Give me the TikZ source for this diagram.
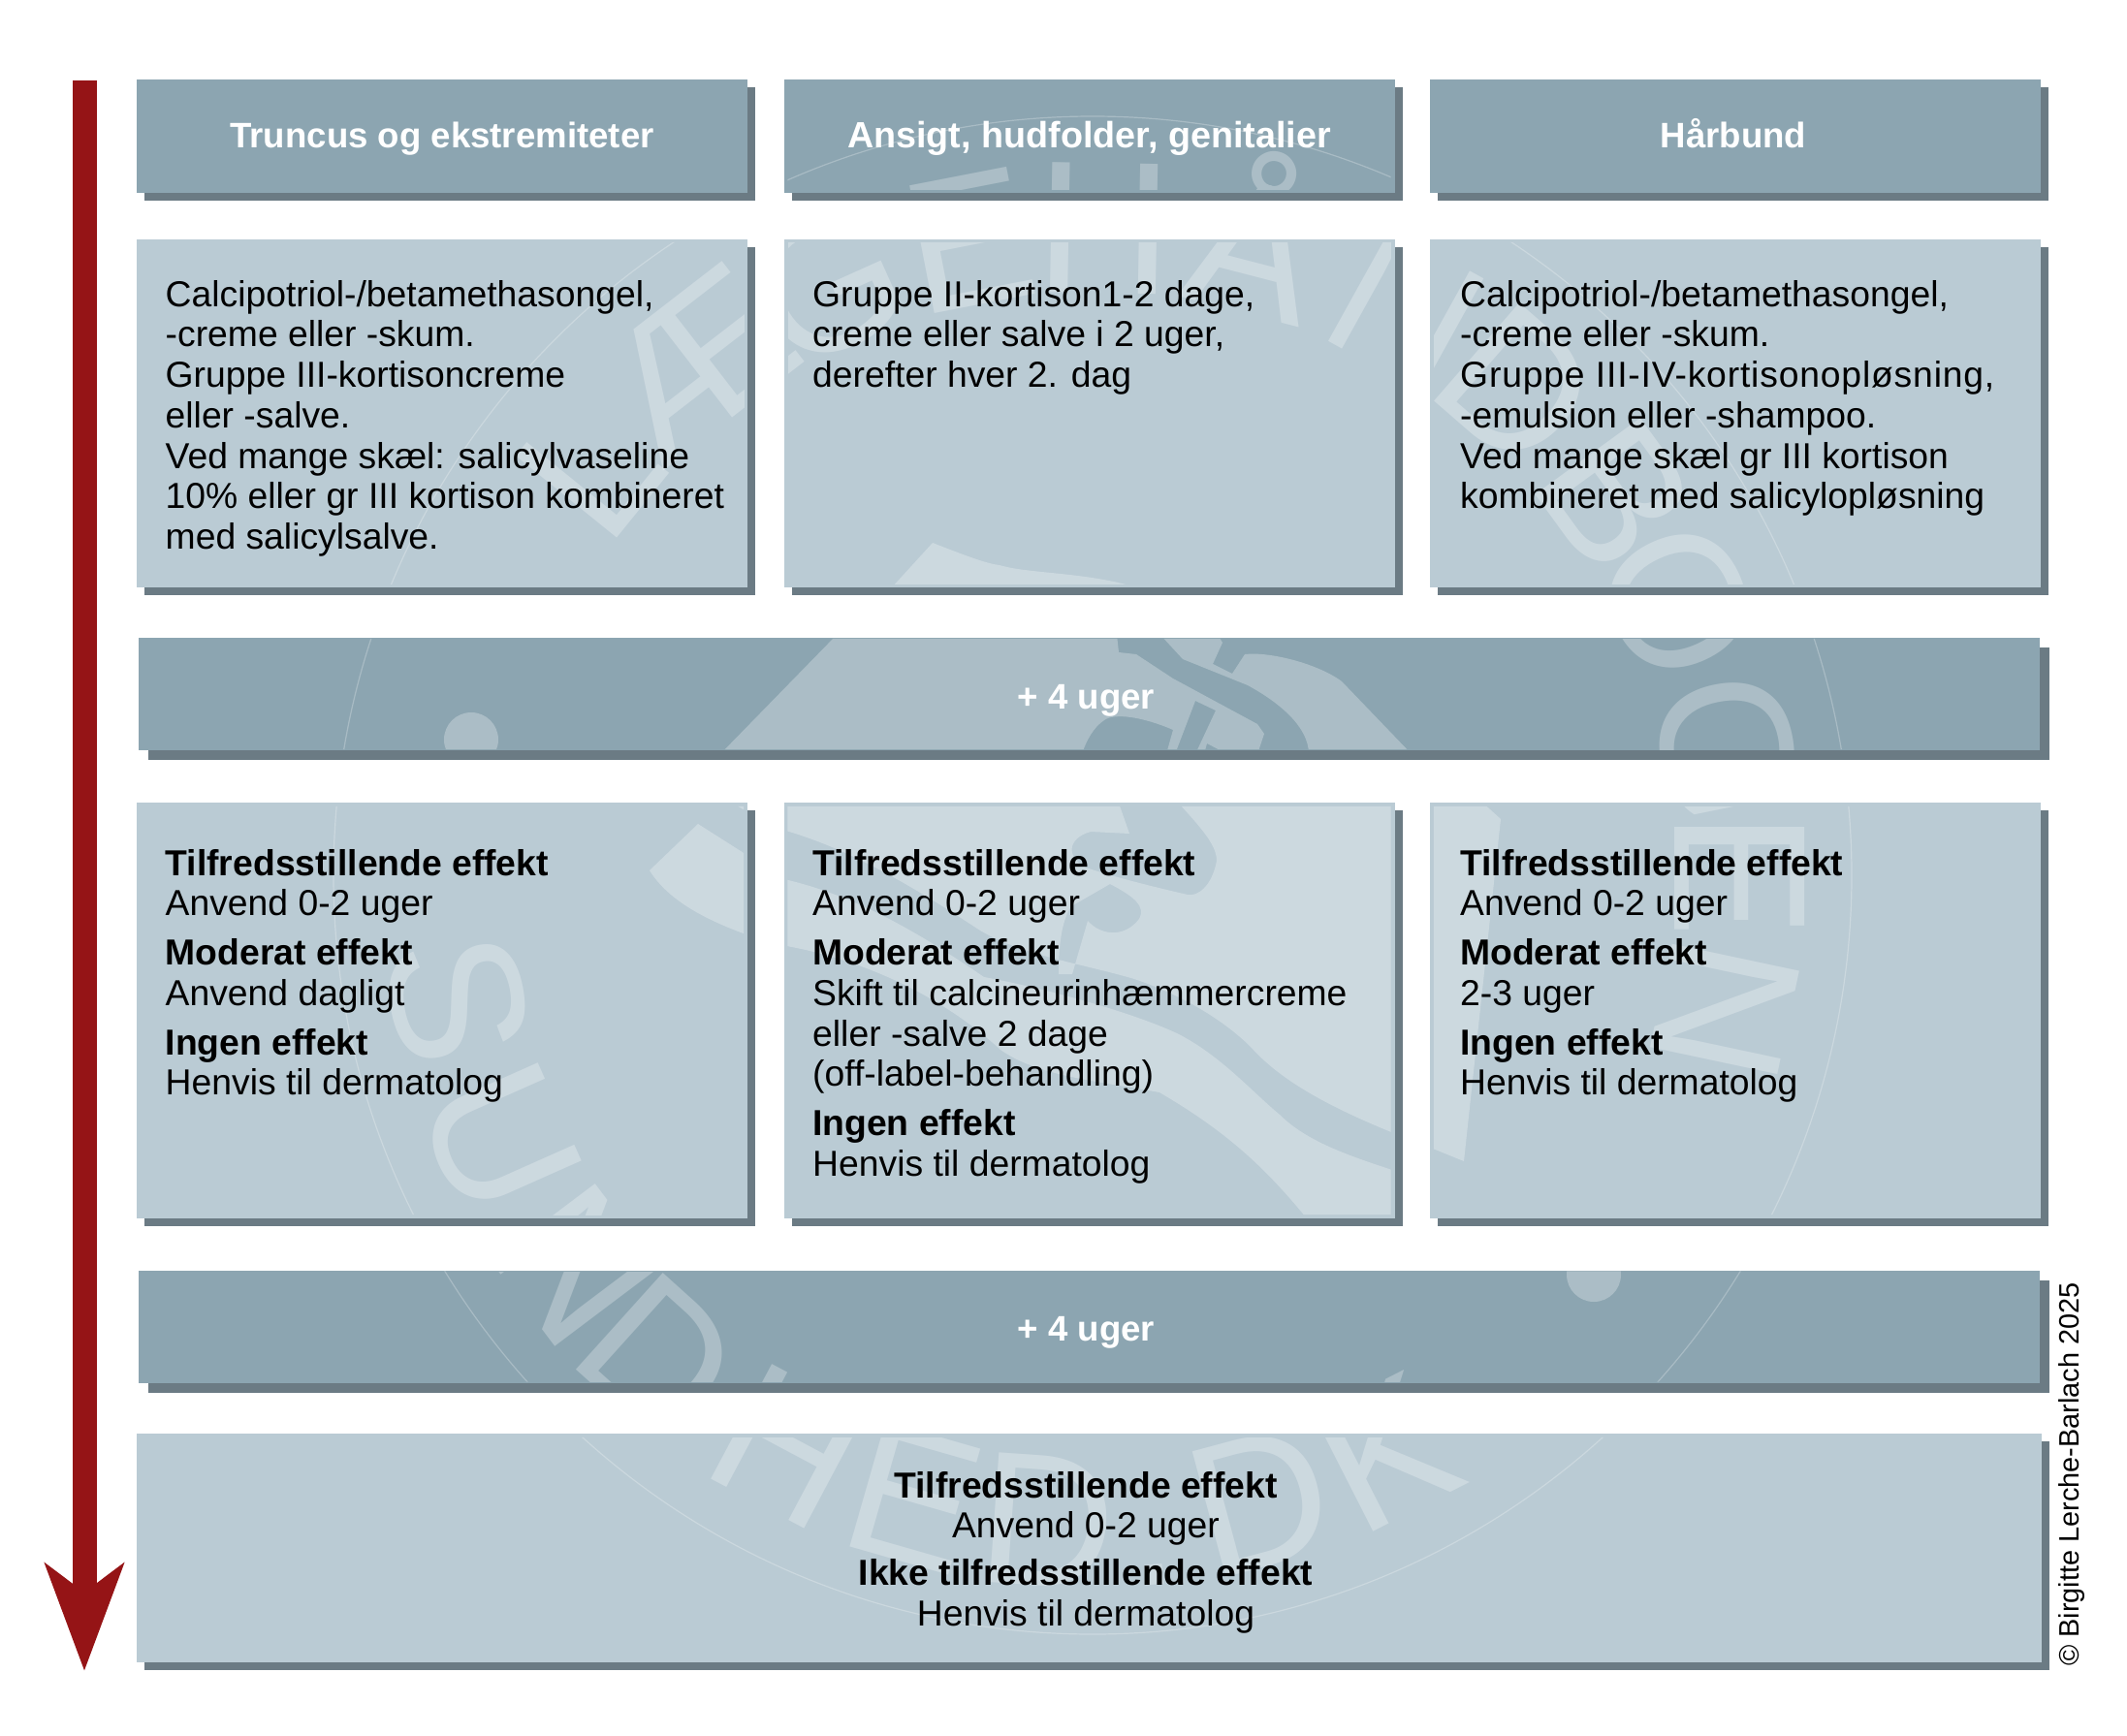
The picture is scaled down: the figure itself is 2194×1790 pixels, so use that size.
\documentclass[tikz,border=0pt]{standalone}
\usepackage{fontspec}
\setmainfont{Liberation Sans}
\usetikzlibrary{arrows.meta,calc,positioning,shadows}
\definecolor{headblue}{HTML}{8CA5B1}
\definecolor{paleblue}{HTML}{BACBD4}
\definecolor{shadowgrey}{HTML}{6B7B84}
\definecolor{arrowred}{HTML}{951416}
\begin{document}
\begin{tikzpicture}[
    x=1pt, y=-1pt,
    headbox/.style={fill=headblue, minimum height=117pt, minimum width=630pt, inner sep=0pt,
                    drop shadow={shadow xshift=8pt, shadow yshift=-8pt, fill=shadowgrey, opacity=1}},
    bandbox/.style={fill=headblue, minimum height=116pt, minimum width=1961pt, inner sep=0pt,
                    drop shadow={shadow xshift=10pt, shadow yshift=-10pt, fill=shadowgrey, opacity=1}},
    palebox/.style={fill=paleblue, minimum width=630pt, inner sep=0pt,
                    drop shadow={shadow xshift=8pt, shadow yshift=-8pt, fill=shadowgrey, opacity=1}},
    headtxt/.style={anchor=base, inner sep=0pt, text=white, font=\fontsize{36.6}{42}\selectfont\bfseries},
    bodytxt/.style={anchor=north west, inner sep=0pt, align=left, font=\fontsize{37.3}{41.7}\selectfont},
    wmchar/.style={anchor=base, inner sep=0pt, text=white, text opacity=.27,
                   font=\fontsize{195}{195}\selectfont},
    wmfill/.style={fill=white, fill opacity=.27}
  ]
    \useasboundingbox (0,0) rectangle (2194,1790);

    % arrow down the left side
    \coordinate (arrowtop) at (87,83);
    \coordinate (arrowtip) at (87,1724);
    \draw[arrowred, line width=25pt, -{Stealth[length=110pt, width=80pt, inset=29pt]}] (arrowtop) -- (arrowtip);

    % panels
    \node[headbox] (headtrunk) at (456,140.5) {};
    \node[headbox] (headface)  at (1123.5,140.5) {};
    \node[headbox] (headscalp) at (1790,140.5) {};

    \node[palebox, minimum height=358.6pt] (medtrunk) at (456,426.3) {};
    \node[palebox, minimum height=358.6pt] (medface)  at (1123.5,426.3) {};
    \node[palebox, minimum height=358.6pt] (medscalp) at (1790,426.3) {};

    \node[bandbox] (bandone) at (1123.5,716) {};

    \node[palebox, minimum height=429pt] (efftrunk) at (456,1042.5) {};
    \node[palebox, minimum height=429pt] (effface)  at (1123.5,1042.5) {};
    \node[palebox, minimum height=429pt] (effscalp) at (1790,1042.5) {};

    \node[bandbox] (bandtwo) at (1123.5,1368.5) {};

    \node[palebox, minimum height=236pt, minimum width=1965pt] (final) at (1123.5,1597) {};

    % seal behind the text, only inside the panels
    \begin{scope}
      \clip \foreach \b/\g in {headtrunk/4,headface/4,headscalp/4,medtrunk/3,medface/3,medscalp/3,
                               bandone/1,efftrunk/4,effface/4,effscalp/4,bandtwo/1,final/4}
        {($(\b.north west)+(4,\g)$) rectangle ($(\b.south east)+(-4,-\g)$)};

      \draw[white, opacity=.25, line width=1.2pt] (1127,903) circle (783);

      \foreach \a/\c [count=\i] in {-51/L,-37.7/Æ,-24.2/G,-11/E,1/H,14.5/Å,29/N,41/D,54/B,65/O,78.6/G,90/E,102/N}
        \node[wmchar, rotate=-\a] (seal\i) at ({1127+600*sin(\a)},{903-600*cos(\a)}) {\c};
      \foreach \a/\c [count=\i] in {259/S,246/U,233/N,222/D,208/H,196/E,184/D,175/.,165/D,153/K}
        \node[wmchar, rotate=180-\a] (sealb\i) at ({1127+735*sin(\a)},{903-735*cos(\a)}) {\c};

      \fill[wmfill] (486,763) circle (28);
      \fill[wmfill] (1644,1315) circle (28);

      % row above the band
      \fill[wmfill] (962,560) .. controls (1000,575) and (1020,582) .. (1031,583)
        .. controls (1060,592) and (1120,590) .. (1172,606) -- (920,606) -- cycle;
      % first band
      \fill[wmfill] (863,655) -- (1152,655) -- (1154,673) -- (1172,675) -- (1210,700) -- (1297,747)
        -- (1304,757) -- (1297,778) -- (1266,778) -- (1245,767) -- (1242,778) -- (1233,778)
        -- (1254,733) -- (1233,723) -- (1212,778) -- (1203,778) -- (1210,753)
        .. controls (1180,740) and (1150,735) .. (1139,743) .. controls (1128,750) and (1120,765) .. (1116,778)
        -- (743,778) -- cycle;
      \fill[wmfill] (1197,655) -- (1256,655) -- (1261,663) -- (1251,685) -- (1271,695) -- (1284,675)
        .. controls (1310,672) and (1360,685) .. (1384,703) -- (1456,778) -- (1350,778)
        .. controls (1350,750) and (1320,725) .. (1287,707) -- (1220,680) -- cycle;
      % left panel of the effect row
      \fill[wmfill] (720,850) -- (775,885) -- (775,966) .. controls (730,950) and (690,930) .. (670,898) -- cycle;
      \fill[wmfill] (752,826) -- (776,826) -- (776,841) -- cycle;
      % centre panel, with the coil left out
      \fill[wmfill, even odd rule] (800,854) .. controls (860,870) and (920,900) .. (1008,958)
        .. controls (1050,985) and (1120,995) .. (1170,1010)
        .. controls (1230,1030) and (1270,1060) .. (1290,1080)
        .. controls (1330,1125) and (1400,1155) .. (1478,1185)
        -- (1510,1198) -- (1548,845) -- (1527,826) -- (800,826) -- cycle
        (1151,820) -- (1208,820) .. controls (1235,850) and (1255,870) .. (1255,888)
        .. controls (1250,915) and (1235,925) .. (1225,923)
        .. controls (1190,915) and (1150,905) .. (1120,895)
        .. controls (1100,885) and (1100,865) .. (1125,858) -- (1165,860) -- cycle
        (1145,912) .. controls (1170,925) and (1182,935) .. (1175,948)
        .. controls (1160,968) and (1135,965) .. (1122,950)
        -- (1106,1005) -- (1092,1005) .. controls (1092,975) and (1095,950) .. (1105,935) -- cycle;
      \fill[wmfill] (800,905) .. controls (870,920) and (930,950) .. (1015,1008)
        .. controls (1080,1020) and (1170,1045) .. (1216,1067)
        .. controls (1260,1090) and (1290,1125) .. (1320,1150)
        .. controls (1350,1180) and (1400,1195) .. (1445,1210)
        -- (1445,1262) -- (1352,1262) .. controls (1310,1210) and (1270,1170) .. (1196,1127)
        .. controls (1130,1115) and (1070,1110) .. (1032,1083)
        .. controls (980,1035) and (900,990) .. (800,974) -- cycle;
    \end{scope}

    % texts
    \node[headtxt] (headtrunktxt) at ($(headtrunk.center)+(0,12)$) {Truncus og ekstremiteter};
    \node[headtxt, font=\fontsize{37.7}{42}\selectfont\bfseries] (headfacetxt) at ($(headface.center)+(0,12)$) {Ansigt, hudfolder, genitalier};
    \node[headtxt] (headscalptxt) at ($(headscalp.center)+(-2,12)$) {Hårbund};

    \node[bodytxt] (medtrunktxt) at (170.5,289) {Calcipotriol-/betamethasongel,\\-creme eller -skum.\\Gruppe III-kortisoncreme\\eller -salve.\\Ved mange skæl: salicylvaseline\\10\% eller gr III kortison kombineret\\med salicylsalve.};
    \node[bodytxt] (medfacetxt)  at (838,289)   {Gruppe II-kortison1-2 dage,\\creme eller salve i 2 uger,\\derefter hver 2. dag};
    \node[bodytxt] (medscalptxt) at (1506,289)  {Calcipotriol-/betamethasongel,\\-creme eller -skum.\\{\addfontfeature{LetterSpace=2.2}Gruppe III-IV-kortisonopløsning,}\\-emulsion eller -shampoo.\\Ved mange skæl gr III kortison\\kombineret med salicylopløsning};

    \node[headtxt] (bandonetxt) at ($(bandone.center)+(-3,15)$) {+ 4 uger};

    \node[bodytxt] (efftrunktxt) at (170.5,876) {\textbf{Tilfredsstillende effekt}\\Anvend 0-2 uger\\[9pt]\textbf{Moderat effekt}\\Anvend dagligt\\[9pt]\textbf{Ingen effekt}\\Henvis til dermatolog};
    \node[bodytxt] (efffacetxt)  at (838,876)   {\textbf{Tilfredsstillende effekt}\\Anvend 0-2 uger\\[9pt]\textbf{Moderat effekt}\\Skift til calcineurinhæmmercreme\\eller -salve 2 dage\\(off-label-behandling)\\[9pt]\textbf{Ingen effekt}\\Henvis til dermatolog};
    \node[bodytxt] (effscalptxt) at (1506,876)  {\textbf{Tilfredsstillende effekt}\\Anvend 0-2 uger\\[9pt]\textbf{Moderat effekt}\\2-3 uger\\[9pt]\textbf{Ingen effekt}\\Henvis til dermatolog};

    \node[headtxt] (bandtwotxt) at ($(bandtwo.center)+(-3,15)$) {+ 4 uger};

    \node[bodytxt, align=center, anchor=north] (finaltxt) at (1120,1518) {\textbf{Tilfredsstillende effekt}\\Anvend 0-2 uger\\[7pt]\textbf{Ikke tilfredsstillende effekt}\\Henvis til dermatolog};

    \node[rotate=90, inner sep=0pt, font=\fontsize{28.9}{30}\selectfont] (copyright) at (2137,1521) {© Birgitte Lerche-Barlach 2025};
  \end{tikzpicture}
\end{document}
